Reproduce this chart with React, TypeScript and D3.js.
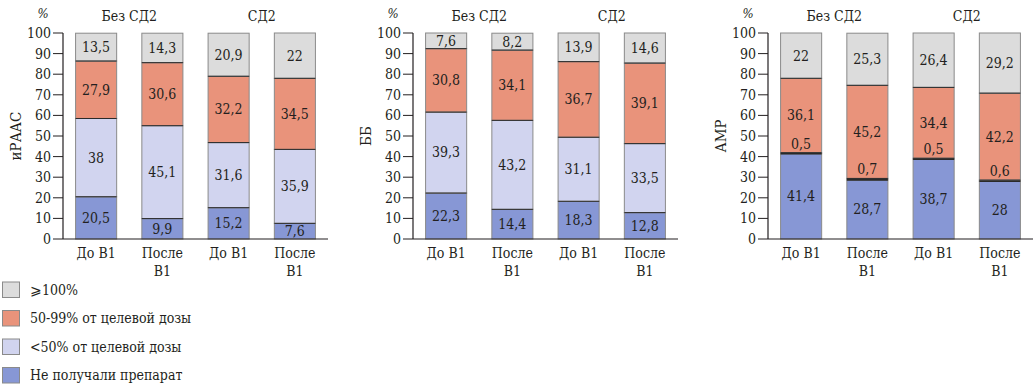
import * as d3 from 'd3'
import { useEffect, useRef } from 'react'

const categories = [['До В1'], ['После', 'В1'], ['До В1'], ['После', 'В1']]
const groups = ['Без СД2', 'СД2']
const seriesNames = ['Не получали препарат', '<50% от целевой дозы', '50-99% от целевой дозы', '⩾100%']
const colors = ['#8797d5', '#d1d4ef', '#e9937b', '#dcdcdc']
const yTicks = [0, 10, 20, 30, 40, 50, 60, 70, 80, 90, 100]

// иРААС
const raasNone = [20.5, 9.9, 15.2, 7.6]
const raasLow = [38, 45.1, 31.6, 35.9]
const raasMid = [27.9, 30.6, 32.2, 34.5]
const raasFull = [13.5, 14.3, 20.9, 22]

// ББ
const bbNone = [22.3, 14.4, 18.3, 12.8]
const bbLow = [39.3, 43.2, 31.1, 33.5]
const bbMid = [30.8, 34.1, 36.7, 39.1]
const bbFull = [7.6, 8.2, 13.9, 14.6]

// АМР
const amrNone = [41.4, 28.7, 38.7, 28]
const amrLow = [0.5, 0.7, 0.5, 0.6]
const amrMid = [36.1, 45.2, 34.4, 42.2]
const amrFull = [22, 25.3, 26.4, 29.2]

const panels = [
  { title: 'иРААС', end: 328, series: [raasNone, raasLow, raasMid, raasFull] },
  { title: 'ББ', end: 678, series: [bbNone, bbLow, bbMid, bbFull] },
  { title: 'АМР', end: 1033, series: [amrNone, amrLow, amrMid, amrFull] },
]

const width = 1033
const height = 388
const top = 33
const bottom = 239
const font = "'DejaVu Serif Condensed', 'DejaVu Serif'"
const ink = '#231f20'

const fmt = (v: number) => String(v).replace('.', ',')

const App = () => {
  const svgRef = useRef<SVGSVGElement>(null)

  useEffect(() => {
    const svg = d3.select(svgRef.current)
    svg.selectAll('*').remove()
    const y = d3.scaleLinear([0, 100], [bottom, top])

    const label = (g: any, size = 14) =>
      g.append('text')
        .style('font-family', font)
        .style('font-stretch', 'condensed')
        .attr('font-size', size)
        .attr('fill', ink)

    panels.forEach(p => {
      const x0 = p.end - 265
      const x = d3.scaleBand<number>()
        .domain([0, 1, 2, 3])
        .range([x0, p.end])
        .paddingInner(0.38)
        .paddingOuter(0.19)
      const g = svg.append('g')

      const rows = categories.map((_, i) => {
        const o: any = { i }
        p.series.forEach((s, k) => (o[k] = s[i]))
        return o
      })
      const stacked = d3.stack<any>().keys(['0', '1', '2', '3'])(rows)
      const bw = x.bandwidth()

      // segments
      stacked.forEach((layer, k) => {
        layer.forEach((d, i) => {
          const y1 = y(d[1])
          const y0 = y(d[0])
          g.append('rect')
            .attr('x', x(i)!).attr('y', y1)
            .attr('width', bw).attr('height', Math.max(0.5, y0 - y1))
            .attr('fill', colors[k])
            .attr('stroke', '#8a8a8a').attr('stroke-width', 1)
        })
      })
      // dark borders between segments
      stacked.forEach((layer, k) => {
        layer.forEach((d, i) => {
          if (k === 0) return
          const bx = x(i)!
          const y0 = y(d[0])
          g.append('line')
            .attr('x1', bx).attr('x2', bx + bw)
            .attr('y1', y0).attr('y2', y0)
            .attr('stroke', '#2a2a2a')
            .attr('stroke-width', k === 1 && p.series[1][i] < 2 ? 1.6 : 1)
        })
      })
      // value labels (tiny segments get theirs just above)
      stacked.forEach((layer, k) => {
        layer.forEach((d, i) => {
          const y1 = y(d[1])
          const y0 = y(d[0])
          const v = p.series[k][i]
          const small = v < 2
          label(g)
            .attr('x', x(i)! + bw / 2)
            .attr('y', small ? y1 - 4 : (y0 + y1) / 2)
            .attr('dy', small ? 0 : '0.35em')
            .attr('text-anchor', 'middle')
            .text(fmt(v))
        })
      })

      // axes
      g.append('line')
        .attr('x1', x0).attr('x2', x0).attr('y1', top).attr('y2', bottom)
        .attr('stroke', ink).attr('stroke-width', 1.2)
      g.append('line')
        .attr('x1', x0).attr('x2', p.end).attr('y1', bottom).attr('y2', bottom)
        .attr('stroke', ink).attr('stroke-width', 1.2)
      yTicks.forEach(t => {
        g.append('line')
          .attr('x1', x0 - 10).attr('x2', x0).attr('y1', y(t)).attr('y2', y(t))
          .attr('stroke', ink).attr('stroke-width', 1)
        label(g)
          .attr('x', x0 - 12).attr('y', y(t)).attr('dy', '0.35em')
          .attr('text-anchor', 'end')
          .text(t)
      })
      label(g, 13)
        .attr('x', x0 - 20).attr('y', 18)
        .attr('text-anchor', 'middle').attr('font-style', 'italic')
        .text('%')
      label(g, 15)
        .attr('transform', `translate(${x0 - 42},${(top + bottom) / 2}) rotate(-90)`)
        .attr('text-anchor', 'middle')
        .text(p.title)

      categories.forEach((lines, i) => {
        lines.forEach((l, j) => {
          label(g)
            .attr('x', x(i)! + bw / 2).attr('y', 258 + j * 18)
            .attr('text-anchor', 'middle')
            .text(l)
        })
      })
      groups.forEach((name, gi) => {
        const a = x(gi * 2)!
        const b = x(gi * 2 + 1)! + bw
        label(g)
          .attr('x', (a + b) / 2).attr('y', 21)
          .attr('text-anchor', 'middle')
          .text(name)
      })
    })

    // legend
    const legendOrder = [3, 2, 1, 0]
    const lg = svg.append('g')
    legendOrder.forEach((k, j) => {
      const ly = 282 + j * 28.5
      lg.append('rect')
        .attr('x', 2.5).attr('y', ly).attr('width', 17).attr('height', 15.5)
        .attr('fill', colors[k]).attr('stroke', '#8a8a8a')
      label(lg)
        .attr('x', 30).attr('y', ly + 12.5)
        .text(seriesNames[k])
    })
  }, [])

  return (
    <svg
      ref={svgRef}
      width={width}
      height={height}
      style={{ position: 'absolute', left: 0, top: 0, background: '#fff' }}
    />
  )
}

export default App
